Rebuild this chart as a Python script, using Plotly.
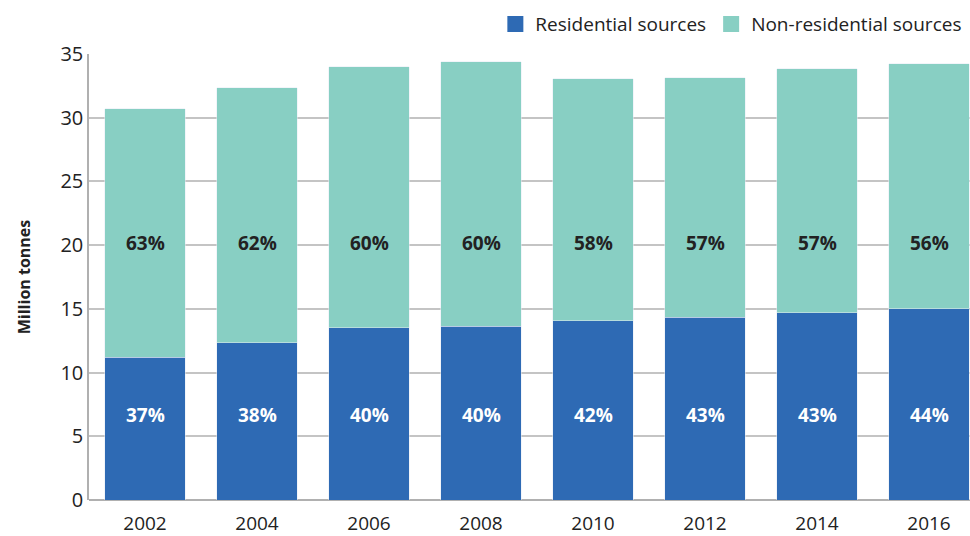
import plotly.graph_objects as go

years = ["2002", "2004", "2006", "2008", "2010", "2012", "2014", "2016"]
residential = [11.2, 12.35, 13.5, 13.65, 14.05, 14.35, 14.7, 15.0]
total = [30.7, 32.35, 34.0, 34.4, 33.05, 33.15, 33.85, 34.25]
non_residential = [t - r for t, r in zip(total, residential)]
res_pct = ["37%", "38%", "40%", "40%", "42%", "43%", "43%", "44%"]
nonres_pct = ["63%", "62%", "60%", "60%", "58%", "57%", "57%", "56%"]

RES = "#2E6AB4"
NONRES = "#88CFC3"
FONT = "Open Sans, Noto Sans, sans-serif"

fig = go.Figure()
fig.add_trace(go.Bar(x=years, y=residential, marker_color=RES, showlegend=False, hoverinfo="y"))
fig.add_trace(go.Bar(x=years, y=non_residential, marker_color=NONRES, showlegend=False, hoverinfo="y"))

# legend swatches (bigger squares than plotly's bar legend)
for name, color in (("Residential sources", RES), ("Non-residential sources", NONRES)):
    fig.add_trace(go.Scatter(x=[None], y=[None], mode="markers", name=name,
                             marker=dict(symbol="square", size=20, color=color)))

# category axis: place labels by index so "2002" isn't read as a position
for i, txt in enumerate(res_pct):
    fig.add_annotation(x=i, y=6.7, text=f"<b>{txt}</b>", showarrow=False,
                       font=dict(size=19, color="white", family=FONT))
for i, txt in enumerate(nonres_pct):
    fig.add_annotation(x=i, y=20.2, text=f"<b>{txt}</b>", showarrow=False,
                       font=dict(size=19, color="#222222", family=FONT))

fig.update_layout(
    width=970,
    height=536,
    barmode="stack",
    bargap=0.28,
    plot_bgcolor="white",
    paper_bgcolor="white",
    margin=dict(l=89, r=0, t=54, b=36, autoexpand=False),
    font=dict(family=FONT, size=18, color="#222222"),
    legend=dict(orientation="h", x=0.997, xanchor="right", y=1.067, yanchor="middle",
                font=dict(size=19), traceorder="normal", itemwidth=30),
)
fig.update_xaxes(range=[-0.5, 7.366], showgrid=False, showline=False, ticks="",
                 tickfont=dict(size=19), ticklabelstandoff=10, automargin=False)
fig.update_yaxes(range=[0, 35], dtick=5, gridcolor="#c4c4c4", gridwidth=1.5,
                 showline=True, linecolor="#b0b0b0", linewidth=1.5, zeroline=True,
                 zerolinecolor="#b0b0b0", zerolinewidth=1.5, ticks="",
                 tickfont=dict(size=20), automargin=False,
                 title=dict(text="<b>Million tonnes</b>", font=dict(size=16), standoff=26))

# drop the default 8px body margin so the figure fills the window
fig.write_html("out.html", config={"displayModeBar": False},
               post_script="document.body.style.margin='0';")
